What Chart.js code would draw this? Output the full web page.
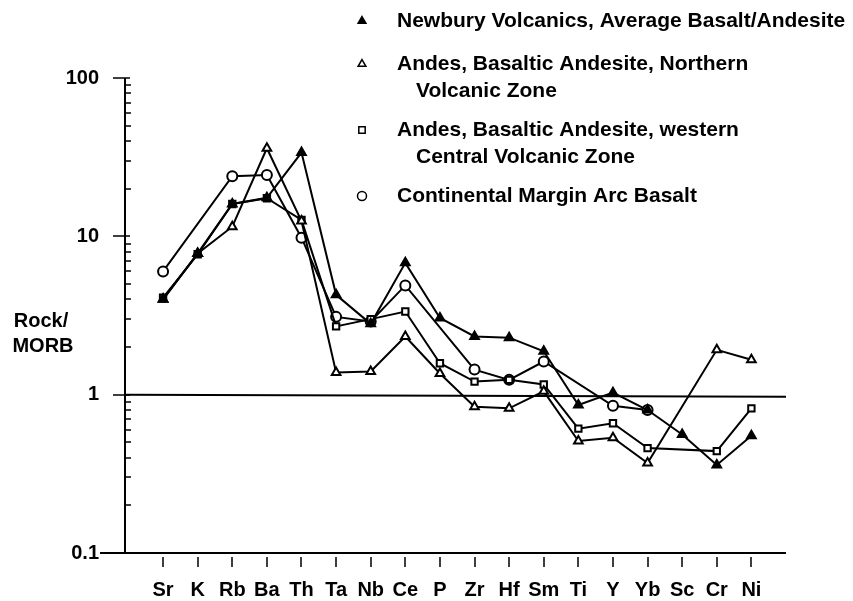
<!DOCTYPE html>
<html>
<head>
<meta charset="utf-8">
<script src="https://cdn.jsdelivr.net/npm/chart.js@4.4.1/dist/chart.umd.min.js"></script>
<style>
    html, body { margin: 0; padding: 0; background: #fff; }
    #wrap { width: 853px; height: 601px; }
</style>
</head>
<body>
<div id="wrap"><canvas id="myChart" width="853" height="601"></canvas></div>
<script>
// elements along the x axis
var elements = ['Sr', 'K', 'Rb', 'Ba', 'Th', 'Ta', 'Nb', 'Ce', 'P', 'Zr', 'Hf', 'Sm', 'Ti', 'Y', 'Yb', 'Sc', 'Cr', 'Ni'];

// Rock / MORB values, null = not plotted
var newbury      = [4.0, 7.8, 16, 17.5, 33.8, 4.27, 2.8, 6.8, 3.05, 2.33, 2.29, 1.88, 0.86, 1.03, 0.8, 0.56, 0.36, 0.55];
var andesNorth   = [4.0, 7.8, 11.5, 36, 12.5, 1.38, 1.4, 2.33, 1.36, 0.84, 0.82, 1.05, 0.51, 0.535, 0.37, null, 1.92, 1.66];
var andesCentral = [4.1, 7.7, 16, 17.4, 12.7, 2.7, 3.0, 3.35, 1.58, 1.21, 1.24, 1.16, 0.61, 0.66, 0.46, null, 0.44, 0.82];
var arcBasalt    = [6.0, null, 24, 24.4, 9.8, 3.1, 2.9, 4.9, null, 1.44, 1.24, 1.62, null, 0.85, 0.8, null, null, null];

var yTicks = [0.1, 1, 10, 100];

var legendLines = [
    ['Newbury Volcanics, Average Basalt/Andesite'],
    ['Andes, Basaltic Andesite, Northern', 'Volcanic Zone'],
    ['Andes, Basaltic Andesite, western', 'Central Volcanic Zone'],
    ['Continental Margin Arc Basalt']
];
var yTitle = ['Rock/', 'MORB'];

var FONT = '"Liberation Sans", Arial, sans-serif';

function toPoints(arr) {
    return arr.map(function(v, i) { return { x: i, y: v }; });
}

function makeSet(label, arr, style, fill) {
    return {
        label: label,
        data: toPoints(arr),
        borderColor: '#000',
        borderWidth: 2,
        pointStyle: style,
        pointRadius: style === 'rect' ? 4.5 : 5,
        pointBorderWidth: 2,
        pointBackgroundColor: fill,
        pointBorderColor: '#000',
        spanGaps: true,
        tension: 0
    };
}

// axes, ticks, reference line, y title and legend
var overlay = {
    id: 'overlay',
    beforeDatasetsDraw: function(chart) {
        var ctx = chart.ctx, a = chart.chartArea, ys = chart.scales.y;
        var y1 = ys.getPixelForValue(1);
        ctx.save();
        ctx.strokeStyle = '#000';
        ctx.lineWidth = 2;
        ctx.beginPath();
        ctx.moveTo(a.left, y1);
        ctx.lineTo(a.right, y1 + 2);
        ctx.stroke();
        ctx.restore();
    },
    afterDraw: function(chart) {
        var ctx = chart.ctx, a = chart.chartArea, xs = chart.scales.x, ys = chart.scales.y;
        ctx.save();
        ctx.strokeStyle = '#000';
        ctx.fillStyle = '#000';
        ctx.lineWidth = 2;
        ctx.beginPath();
        ctx.moveTo(a.left, a.top);
        ctx.lineTo(a.left, a.bottom);
        ctx.moveTo(100, a.bottom);
        ctx.lineTo(a.right, a.bottom);
        ctx.stroke();

        // y ticks: decades outside, minor ones inside
        ctx.lineWidth = 1.5;
        ctx.beginPath();
        yTicks.forEach(function(v) {
            var p = Math.round(ys.getPixelForValue(v));
            ctx.moveTo(a.left - 12, p);
            ctx.lineTo(a.left + 5, p);
        });
        for (var d = 0.1; d < 90; d *= 10) {
            for (var m = 2; m <= 9; m++) {
                var q = Math.round(ys.getPixelForValue(d * m));
                ctx.moveTo(a.left, q);
                ctx.lineTo(a.left + 6, q);
            }
        }
        // x ticks
        elements.forEach(function(e, i) {
            var px = Math.round(xs.getPixelForValue(i));
            ctx.moveTo(px, a.bottom + 4);
            ctx.lineTo(px, a.bottom + 14);
        });
        ctx.stroke();

        // y title
        ctx.font = 'bold 20px ' + FONT;
        ctx.textAlign = 'center';
        ctx.textBaseline = 'middle';
        ctx.fillText(yTitle[0], 41, 321);
        ctx.fillText(yTitle[1], 43, 346);

        // legend
        var rows = [21, 64, 130, 196];
        ctx.textAlign = 'left';
        ctx.font = 'bold 21px ' + FONT;
        chart.data.datasets.forEach(function(ds, k) {
            var yy = rows[k];
            ctx.fillStyle = ds.pointBackgroundColor;
            ctx.strokeStyle = '#000';
            ctx.lineWidth = 1.5;
            Chart.helpers.drawPoint(ctx, { pointStyle: ds.pointStyle, radius: 4.5, rotation: 0, borderWidth: 1.5 }, 362, yy);
            ctx.fillStyle = '#000';
            legendLines[k].forEach(function(t, j) {
                ctx.fillText(t, j === 0 ? 397 : 416, yy + j * 27);
            });
        });
        ctx.restore();
    }
};

var ctx = document.getElementById('myChart').getContext('2d');
new Chart(ctx, {
    type: 'line',
    data: {
        datasets: [
            makeSet(legendLines[0].join(' '), newbury, 'triangle', '#000'),
            makeSet(legendLines[1].join(' '), andesNorth, 'triangle', '#fff'),
            makeSet(legendLines[2].join(' '), andesCentral, 'rect', '#fff'),
            makeSet(legendLines[3].join(' '), arcBasalt, 'circle', '#fff')
        ]
    },
    options: {
        responsive: false,
        animation: false,
        layout: { padding: { top: 78, right: 67, left: 0, bottom: 0 } },
        plugins: {
            legend: { display: false },
            tooltip: { enabled: false }
        },
        scales: {
            x: {
                type: 'linear',
                min: -1.1,
                max: 18,
                afterBuildTicks: function(s) {
                    s.ticks = elements.map(function(e, i) { return { value: i }; });
                },
                afterFit: function(s) { s.height = 48; },
                grid: { display: false },
                border: { display: false },
                ticks: {
                    autoSkip: false,
                    maxRotation: 0,
                    padding: 17,
                    color: '#000',
                    font: { family: FONT, size: 20, weight: 'bold' },
                    callback: function(v) { return elements[v]; }
                }
            },
            y: {
                type: 'logarithmic',
                min: 0.1,
                max: 100,
                afterBuildTicks: function(s) {
                    s.ticks = yTicks.map(function(v) { return { value: v }; });
                },
                afterFit: function(s) { s.width = 125; },
                grid: { display: false },
                border: { display: false },
                ticks: {
                    padding: 18,
                    color: '#000',
                    font: { family: FONT, size: 20, weight: 'bold' },
                    callback: function(v) { return String(v); }
                }
            }
        }
    },
    plugins: [overlay]
});
</script>
</body>
</html>
